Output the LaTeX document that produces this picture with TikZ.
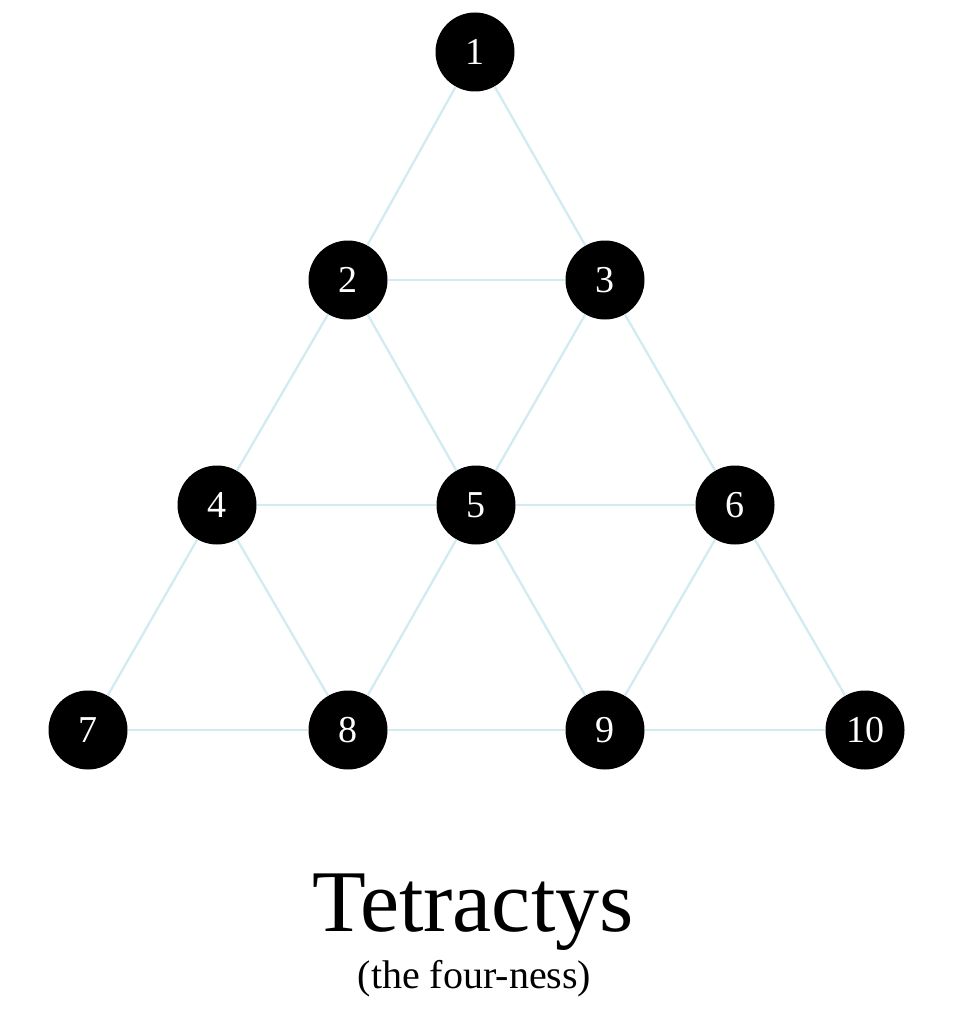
\documentclass[tikz,border=0pt]{standalone}
\usepackage{fontspec}
\setmainfont{Liberation Serif}
\definecolor{edgeblue}{HTML}{D2EBF1}
\begin{document}
\begin{tikzpicture}[x=1pt,y=-1pt,
  dot/.style={circle,fill=black,minimum size=79pt,inner sep=0pt,text=white,font=\fontsize{38}{38}\selectfont},
  edge/.style={draw=edgeblue,line width=2.3pt}]
\useasboundingbox (0,0) rectangle (956,1024);
\node[dot] (n1) at (475,52) {1};
\node[dot] (n2) at (348,280) {2};
\node[dot] (n3) at (605,280) {3};
\node[dot] (n4) at (217,505) {4};
\node[dot] (n5) at (476,505) {5};
\node[dot] (n6) at (735,505) {6};
\node[dot] (n7) at (88,730) {7};
\node[dot] (n8) at (348,730) {8};
\node[dot] (n9) at (605,730) {9};
\node[dot] (n10) at (865,730) {10};
\path[edge] (n1) -- (n2);
\path[edge] (n1) -- (n3);
\path[edge] (n2) -- (n3);
\path[edge] (n2) -- (n4);
\path[edge] (n2) -- (n5);
\path[edge] (n3) -- (n5);
\path[edge] (n3) -- (n6);
\path[edge] (n4) -- (n5);
\path[edge] (n5) -- (n6);
\path[edge] (n4) -- (n7);
\path[edge] (n4) -- (n8);
\path[edge] (n5) -- (n8);
\path[edge] (n5) -- (n9);
\path[edge] (n6) -- (n9);
\path[edge] (n6) -- (n10);
\path[edge] (n7) -- (n8);
\path[edge] (n8) -- (n9);
\path[edge] (n9) -- (n10);
\node[anchor=base,inner sep=0pt,font=\fontsize{88}{88}\selectfont] (title) at (473,931) {Tetractys};
\node[anchor=base,inner sep=0pt,font=\fontsize{40}{40}\selectfont] (sub) at (474.5,988) {(the four-ness)};
\end{tikzpicture}
\end{document}
